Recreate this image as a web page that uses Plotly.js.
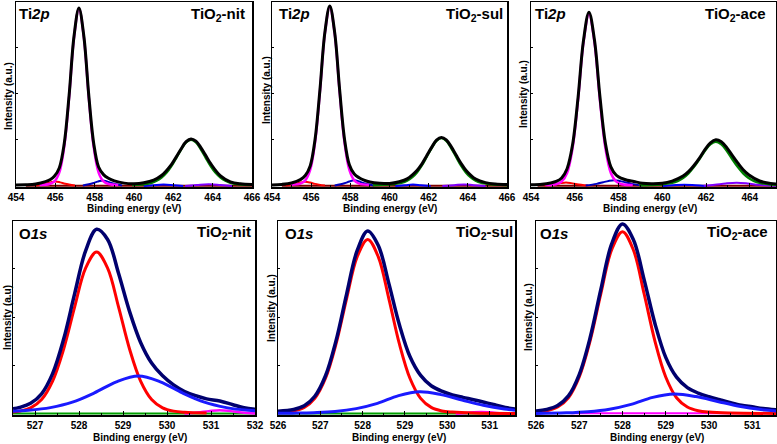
<!DOCTYPE html>
<html><head><meta charset="utf-8">
<script src="https://cdn.plot.ly/plotly-3.0.1.min.js"></script>
<style>html,body{margin:0;padding:0;background:#fff}#chart{width:777px;height:444px}</style>
</head><body><div id="chart"></div>
<script>
// ---------- Ti 2p, TiO2-nit ----------
const nitTi_env_x = [454,454.5,455,455.5,455.75,455.95,456.2,456.45,456.7,456.95,457.2,457.45,457.7,457.95,458.2,458.45,458.7,459,459.5,460,460.5,461,461.4,461.9,462.15,462.4,462.65,462.9,463.15,463.4,463.65,463.9,464.4,464.9,465.4,466];
const nitTi_env_y = [0.6,0.7,1.1,2.4,3.6,5.3,9.8,22.8,49,81,96.3,81,49.1,23.2,10.3,6.2,4.2,2.8,1.6,1.3,1.8,3.2,5.7,11.6,15.8,20.2,24.0,25.5,24.3,20.8,16.5,12.1,5.5,2.3,1.2,0.85];
const nitTi_mag_x = [455.2,455.7,455.95,456.2,456.45,456.7,456.95,457.2,457.45,457.7,457.95,458.2,458.45,458.7,459.2];
const nitTi_mag_y = [0.6,1.1,2.5,7.3,21.1,48,80.4,96,80.4,48,21.1,7.3,2.5,1.1,0.6];
const nitTi_red_x = [455,455.5,455.75,456,456.25,456.5,457];
const nitTi_red_y = [0.3,1.3,2.0,2.5,2.0,1.3,0.3];
const nitTi_blue_x = [457.4,457.9,458.15,458.4,458.65,458.9,459.4];
const nitTi_blue_y = [0.3,1.5,2.4,3.0,2.4,1.5,0.3];
const nitTi_green_x = [459.9,460.4,460.9,461.15,461.4,461.65,461.9,462.15,462.4,462.65,462.9,463.15,463.4,463.65,463.9,464.15,464.4,464.65,464.9,465.4,465.9];
const nitTi_green_y = [0.6,0.9,1.8,2.9,4.6,7.2,10.8,15.3,19.9,23.6,25,23.6,19.9,15.3,10.8,7.2,4.6,2.9,1.8,0.9,0.6];
const nitTi_blue2_x = [460.5,461,461.5,462,462.5];
const nitTi_blue2_y = [0.1,0.5,0.8,0.5,0.1];
const nitTi_pur_x = [462.6,463.2,463.8,464.4,465];
const nitTi_pur_y = [0.1,0.6,1.0,0.6,0.1];
const nitTi_base_x = [454.5,466];
const nitTi_base_y = [0.2,0.2];

// ---------- Ti 2p, TiO2-sul ----------
const sulTi_env_x = [454,454.5,455,455.45,455.7,455.95,456.2,456.45,456.7,456.95,457.2,457.45,457.7,457.95,458.2,458.45,458.7,459,459.5,460,460.5,460.9,461.4,461.65,461.9,462.15,462.4,462.65,462.9,463.15,463.4,463.65,463.9,464.4,464.9,465.4,466];
const sulTi_env_y = [0.6,0.9,1.7,3.5,5.7,10.9,25.3,52.3,83.1,97.3,83.1,52.5,25.6,11.5,6.5,4.5,3.2,2.2,1.55,1.4,2.35,3.9,8.4,11.9,16.4,20.9,24.8,26.3,25.0,21.3,16.8,12.35,8.6,3.8,1.85,1.1,0.85];
const sulTi_mag_x = [454.95,455.45,455.7,455.95,456.2,456.45,456.7,456.95,457.2,457.45,457.7,457.95,458.2,458.45,458.95];
const sulTi_mag_y = [0.7,1.3,3.1,8.7,23.8,51.4,82.5,97,82.5,51.4,23.8,8.7,3.1,1.3,0.7];
const sulTi_red_x = [454.7,455.2,455.45,455.7,455.95,456.2,456.7];
const sulTi_red_y = [0.3,1.2,1.9,2.3,1.9,1.2,0.3];
const sulTi_blue_x = [457.2,457.7,457.95,458.2,458.45,458.7,459.2];
const sulTi_blue_y = [0.3,1.5,2.5,3.1,2.5,1.5,0.3];
const sulTi_green_x = [459.15,459.65,460.15,460.65,460.9,461.15,461.4,461.65,461.9,462.15,462.4,462.65,462.9,463.15,463.4,463.65,463.9,464.15,464.4,464.65,465.15,465.65,466];
const sulTi_green_y = [0.5,0.65,1.0,1.9,3.0,4.7,7.4,11.2,15.9,20.6,24.5,26,24.5,20.6,15.9,11.2,7.4,4.7,3.0,1.9,1.0,0.65,0.5];
const sulTi_blue2_x = [460.3,460.8,461.2,461.6,462.1];
const sulTi_blue2_y = [0.1,0.5,0.8,0.5,0.1];
const sulTi_pur_x = [462.7,463.3,463.8,464.3,464.9];
const sulTi_pur_y = [0.1,0.5,0.9,0.5,0.1];
const sulTi_base_x = [454.5,466];
const sulTi_base_y = [0.2,0.2];

// ---------- Ti 2p, TiO2-ace ----------
const aceTi_env_x = [454,454.5,454.9,455.15,455.4,455.65,455.9,456.15,456.4,456.65,456.9,457.15,457.4,457.65,457.9,458.15,458.4,458.7,459.1,459.5,460,460.45,460.95,461.2,461.45,461.7,461.95,462.2,462.45,462.7,462.95,463.2,463.45,463.7,463.95,464.45,464.95,465.2];
const aceTi_env_y = [0.65,0.95,1.7,2.5,4.4,9.4,22.3,47.7,78.75,94.0,79.05,48.5,23.2,10.4,5.85,4.1,3.15,2.45,1.5,1.3,1.5,2.7,5.4,7.8,11.15,15.15,19.7,23.35,25.0,23.95,20.8,16.55,12.5,8.8,6.1,2.75,1.45,1.15];
const aceTi_mag_x = [454.65,455.15,455.4,455.65,455.9,456.15,456.4,456.65,456.9,457.15,457.4,457.65,457.9,458.15,458.65];
const aceTi_mag_y = [0.55,1.0,2.4,7.1,20.5,46.5,77.8,93,77.8,46.5,20.5,7.1,2.4,1.0,0.55];
const aceTi_red_x = [454.6,455.1,455.35,455.6,455.85,456.1,456.6];
const aceTi_red_y = [0.3,1.0,1.6,2.0,1.6,1.0,0.3];
const aceTi_blue_x = [456.5,457.0,457.3,457.55,457.8,458.05,458.3,458.6,459.1];
const aceTi_blue_y = [0.3,1.2,2.1,2.8,3.2,2.8,2.1,1.2,0.3];
const aceTi_green_x = [458.95,459.45,459.95,460.45,460.7,460.95,461.2,461.45,461.7,461.95,462.2,462.45,462.7,462.95,463.2,463.45,463.7,463.95,464.2,464.45,464.95,465.2];
const aceTi_green_y = [0.45,0.6,0.9,1.75,2.7,4.4,6.9,10.4,14.6,19.1,22.6,24,22.6,19.1,14.6,10.4,6.9,4.4,2.7,1.75,0.9,0.7];
const aceTi_blue2_x = [460.0,460.5,461.0,461.5,462.0];
const aceTi_blue2_y = [0.1,0.45,0.7,0.45,0.1];
const aceTi_pur_x = [461.9,462.4,462.9,463.4,463.9,464.4,464.9,465.2];
const aceTi_pur_y = [0.2,0.7,1.4,1.8,1.4,0.7,0.25,0.15];
const aceTi_base_x = [454.3,465.2];
const aceTi_base_y = [0.2,0.2];

// ---------- O 1s, TiO2-nit ----------
const nitO_env_x = [526.5,526.65,526.9,527.15,527.4,527.65,527.9,528.15,528.4,528.65,528.9,529.15,529.4,529.65,529.9,530.15,530.4,530.65,530.9,531.2,531.5,531.75,532];
const nitO_env_y = [2.7,3.4,5.5,10.4,20.8,38.5,61.9,84.1,95.2,90.0,72.4,52.8,36.9,26.3,19.7,15.0,11.6,9.45,7.8,6.7,4.8,3.25,2.4];
const nitO_red_x = [526.5,526.65,526.9,527.15,527.4,527.65,527.9,528.15,528.4,528.65,528.9,529.15,529.4,529.65,529.9,530.15,530.4,530.9];
const nitO_red_y = [1.0,1.5,3.2,7.5,17.0,33.4,55.1,75.2,83.5,75.2,55.1,33.4,17.0,7.5,3.2,1.5,0.9,0.5];
const nitO_blue_x = [526.5,526.85,527.35,527.85,528.35,528.85,529.35,529.85,530.35,530.85,531.35,531.85,532];
const nitO_blue_y = [1.4,1.9,3.3,6.1,10.9,16.6,19.6,16.6,10.9,6.1,3.3,1.9,1.7];
const nitO_mag_x = [530.4,530.7,530.95,531.2,531.45,531.7,532];
const nitO_mag_y = [0.2,0.8,1.5,2.0,1.5,0.8,0.3];
const nitO_green_x = [526.5,532];
const nitO_green_y = [0.3,0.3];

// ---------- O 1s, TiO2-sul ----------
const sulO_env_x = [526,526.37,526.62,526.87,527.12,527.37,527.62,527.87,528.12,528.37,528.62,528.87,529.12,529.37,529.62,529.87,530.12,530.37,530.62,530.87,531.12,531.37,531.6];
const sulO_env_y = [1.45,2.35,4.25,9.15,19.6,37.7,61.7,84.2,94.4,86.9,67.2,45.9,29.5,19.9,14.6,11.8,9.9,8.6,7.4,6.1,4.75,3.4,2.6];
const sulO_red_x = [526.0,526.37,526.62,526.87,527.12,527.37,527.62,527.87,528.12,528.37,528.62,528.87,529.12,529.37,529.62,529.87,530.12,530.62,531.6];
const sulO_red_y = [0.8,1.6,3.4,8.1,18.3,36.0,59.4,81.0,90,81.0,59.4,36.0,18.3,8.1,3.4,1.6,1.0,0.5,0.3];
const sulO_blue_x = [526.0,526.35,526.85,527.35,527.85,528.35,528.85,529.35,529.85,530.35,530.85,531.35,531.6];
const sulO_blue_y = [0.35,0.45,0.7,1.3,2.8,5.5,9.5,11.5,10.0,7.2,4.5,2.6,2.0];
const sulO_mag_x = [530.2,530.5,530.8,531.1,531.4];
const sulO_mag_y = [0.2,0.7,1.0,0.7,0.2];
const sulO_green_x = [526,531.6];
const sulO_green_y = [0.3,0.3];

// ---------- O 1s, TiO2-ace ----------
const aceO_env_x = [526,526.25,526.5,526.75,527,527.25,527.5,527.75,528,528.25,528.5,528.75,529,529.25,529.5,529.75,530,530.25,530.5,530.75,531,531.25,531.55];
const aceO_env_y = [1.6,2.4,4.4,9.35,20.35,39.2,64.2,87.7,98.0,90.0,69.3,46.7,29.2,19.0,13.6,10.8,8.9,7.35,5.85,4.55,3.7,2.85,2.2];
const aceO_red_x = [526.0,526.25,526.5,526.75,527.0,527.25,527.5,527.75,528.0,528.25,528.5,528.75,529.0,529.25,529.5,529.75,530.0,530.5,531.55];
const aceO_red_y = [1.0,1.7,3.6,8.4,19.1,37.6,62.0,84.7,94,84.7,62.0,37.6,19.1,8.4,3.6,1.7,1.0,0.55,0.3];
const aceO_blue_x = [526.0,526.7,527.2,527.7,528.2,528.7,529.2,529.7,530.2,530.7,531.2,531.55];
const aceO_blue_y = [0.3,0.6,1.2,2.5,5.0,8.6,10.3,9.0,6.5,4.0,2.3,1.6];
const aceO_mag_x = [526.8,531.3];
const aceO_mag_y = [0.4,0.4];

// ---------- text ----------
const sampleNames = ['nit','sul','ace'];
const xTitle = 'Binding energy (eV)';
const yTitlesTop = ['Intensity (a.u.)','Intensity (a.u.)','Intensity (a.u.)'];
const yTitlesBottom = ['Intensity (a.u)','Intensity (a.u.)','Intensity (a.u.)'];

// ---------- build ----------
const W = 777, H = 444;
const FONT = 'Liberation Sans, Arial, Helvetica, sans-serif';
const traces = [];
function line(x, y, color, width, k) {
  traces.push({type:'scatter', mode:'lines', x:x, y:y, xaxis:'x'+(k===1?'':k), yaxis:'y'+(k===1?'':k),
    line:{color:color, width:width, shape:'spline', smoothing:1}, hoverinfo:'skip', showlegend:false});
}
// top row
line(nitTi_base_x, nitTi_base_y, '#800000', 2, 1);
line(nitTi_red_x, nitTi_red_y, '#ff0000', 2, 1);
line(nitTi_blue_x, nitTi_blue_y, '#0000c0', 2, 1);
line(nitTi_blue2_x, nitTi_blue2_y, '#0000ff', 2, 1);
line(nitTi_pur_x, nitTi_pur_y, '#8000ff', 2, 1);
line(nitTi_green_x, nitTi_green_y, '#008000', 2.5, 1);
line(nitTi_mag_x, nitTi_mag_y, '#ff00ff', 2.5, 1);
line(nitTi_env_x, nitTi_env_y, '#000000', 3, 1);

line(sulTi_base_x, sulTi_base_y, '#800000', 2, 2);
line(sulTi_red_x, sulTi_red_y, '#ff0000', 2, 2);
line(sulTi_blue_x, sulTi_blue_y, '#0000c0', 2, 2);
line(sulTi_blue2_x, sulTi_blue2_y, '#0000ff', 2, 2);
line(sulTi_pur_x, sulTi_pur_y, '#8000ff', 2, 2);
line(sulTi_green_x, sulTi_green_y, '#008000', 2.5, 2);
line(sulTi_mag_x, sulTi_mag_y, '#ff00ff', 2.5, 2);
line(sulTi_env_x, sulTi_env_y, '#000000', 3, 2);

line(aceTi_base_x, aceTi_base_y, '#800000', 2, 3);
line(aceTi_red_x, aceTi_red_y, '#ff0000', 2, 3);
line(aceTi_blue_x, aceTi_blue_y, '#0000c0', 2, 3);
line(aceTi_blue2_x, aceTi_blue2_y, '#0000ff', 2, 3);
line(aceTi_pur_x, aceTi_pur_y, '#8000ff', 2, 3);
line(aceTi_green_x, aceTi_green_y, '#008000', 2.5, 3);
line(aceTi_mag_x, aceTi_mag_y, '#ff00ff', 2.5, 3);
line(aceTi_env_x, aceTi_env_y, '#000000', 3, 3);
// bottom row
line(nitO_green_x, nitO_green_y, '#00a000', 2, 4);
line(nitO_mag_x, nitO_mag_y, '#ff00ff', 2.5, 4);
line(nitO_red_x, nitO_red_y, '#ff0000', 3, 4);
line(nitO_env_x, nitO_env_y, '#00006e', 3.5, 4);
line(nitO_blue_x, nitO_blue_y, '#1a1aff', 3, 4);

line(sulO_green_x, sulO_green_y, '#00a000', 2, 5);
line(sulO_mag_x, sulO_mag_y, '#ff00ff', 2.5, 5);
line(sulO_red_x, sulO_red_y, '#ff0000', 3, 5);
line(sulO_env_x, sulO_env_y, '#00006e', 3.5, 5);
line(sulO_blue_x, sulO_blue_y, '#1a1aff', 3, 5);

line(aceO_mag_x, aceO_mag_y, '#ff00ff', 2, 6);
line(aceO_red_x, aceO_red_y, '#ff0000', 3, 6);
line(aceO_env_x, aceO_env_y, '#00006e', 3.5, 6);
line(aceO_blue_x, aceO_blue_y, '#1a1aff', 3, 6);

// panel boxes in pixels: [left, right, top, bottom], x-range
const boxes = [
  {px:[16,252,2,187],   range:[454,466],   dtick:2, minor:1},
  {px:[272,507,2,187],  range:[454,466],   dtick:2, minor:1},
  {px:[531,776,2,187],  range:[454,465.2], dtick:2, minor:1},
  {px:[13,255,221,415], range:[526.5,532], dtick:1, minor:0.5},
  {px:[278,515,221,415],range:[526,531.6], dtick:1, minor:0.5},
  {px:[536,776,221,415],range:[526,531.55],dtick:1, minor:0.5}
];
const layout = {width:W, height:H, margin:{l:0,r:0,t:0,b:0}, paper_bgcolor:'#fff', plot_bgcolor:'#fff',
  showlegend:false, font:{family:FONT, color:'#000', size:10}, annotations:[]};
boxes.forEach((b,i)=>{
  const k = i+1, s = k===1?'':k;
  layout['xaxis'+s] = {domain:[b.px[0]/W, b.px[1]/W], range:b.range, anchor:'y'+s,
    showline:true, mirror:true, linecolor:'#000', linewidth:1.5, showgrid:false, zeroline:false,
    ticks:'inside', ticklen:4, tickwidth:1, tickcolor:'#000', tick0:0, dtick:b.dtick,
    minor:{dtick:b.minor, ticks:'inside', ticklen:2.5, tickcolor:'#000', showgrid:false},
    tickfont:{family:FONT, size:10, color:'#000', weight:'bold'}, fixedrange:true};
  layout['yaxis'+s] = {domain:[1-b.px[3]/H, 1-b.px[2]/H], range:[-0.5,99.5], anchor:'x'+s,
    showline:true, mirror:true, linecolor:'#000', linewidth:1.5, showgrid:false, zeroline:false,
    ticks:'inside', ticklen:2, tickcolor:'#000', dtick:25, tick0:0, showticklabels:false, fixedrange:true};
});
function ann(text, px, py, xanchor, size, weight, angle) {
  layout.annotations.push({text:text, xref:'paper', yref:'paper', x:px/W, y:1-py/H,
    xanchor:xanchor, yanchor:'middle', showarrow:false, textangle:angle||0,
    font:{family:FONT, size:size, color:'#000', weight:weight}});
}
// panel labels
const topLabelL = [17, 277, 533], topLabelR = [247, 505, 768];
const botLabelL = [17, 283, 538], botLabelR = [253, 515, 770];
for (let i=0;i<3;i++) {
  ann('Ti<i>2p</i>', topLabelL[i], 13, 'left', 15, 'bold');
  ann('TiO<sub>2</sub>-'+sampleNames[i], topLabelR[i], 15, 'right', 15, 'bold');
  ann('O<i>1s</i>', botLabelL[i], 234, 'left', 15, 'bold');
  ann('TiO<sub>2</sub>-'+sampleNames[i], botLabelR[i], 232, 'right', 15, 'bold');
}
// axis titles
const topXc = [134, 390, 650], botXc = [140, 399, 657];
const topYt = [[8,96],[266,90],[523,94]], botYt = [[7,318],[271,308],[528,317]];
for (let i=0;i<3;i++) {
  ann(xTitle, topXc[i], 209, 'center', 10, 'bold');
  ann(xTitle, botXc[i], 437, 'center', 10, 'bold');
  ann(yTitlesTop[i], topYt[i][0], topYt[i][1], 'center', 10, 'bold', -90);
  ann(yTitlesBottom[i], botYt[i][0], botYt[i][1], 'center', 10, 'bold', -90);
}
Plotly.newPlot('chart', traces, layout, {staticPlot:true, displayModeBar:false});
</script></body></html>
